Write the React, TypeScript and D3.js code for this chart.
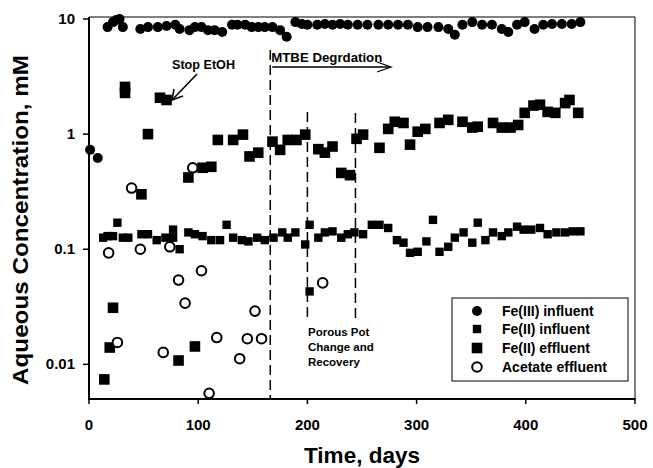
import React from "react";
import * as d3 from "d3";

// Fe(III) influent [day, mM]
const fe3Influent: [number, number][] = [
  [1, 0.73], [8, 0.62],
  [17, 8.5], [22, 9.4], [25, 9.8], [28, 10], [31, 8.5], [47, 8.2], [54, 8.5],
  [63, 8.5], [71, 8.7], [79, 8.9], [83, 8.2], [92, 8.0], [97, 8.5], [103, 8.5],
  [109, 8.0], [115, 8.0], [122, 7.7], [131, 8.9], [136, 8.9], [143, 8.9],
  [149, 8.5], [155, 8.5], [161, 8.5], [168, 8.5], [175, 8.0], [181, 7.0],
  [189, 9.4], [195, 9.05], [200, 8.9], [209, 8.9], [216, 9.05], [223, 8.9],
  [230, 9.05], [237, 8.9], [246, 8.9], [255, 8.9], [265, 8.9], [274, 8.9],
  [283, 8.9], [292, 8.9], [301, 8.5], [310, 8.5], [320, 8.5], [329, 8.2],
  [335, 7.3], [342, 8.9], [351, 9.4], [360, 8.9], [369, 8.9], [378, 8.2],
  [384, 7.7], [392, 8.9], [399, 9.4], [408, 8.2], [416, 8.9], [424, 9.05],
  [433, 9.05], [442, 9.05], [450, 9.4],
];

// Fe(II) influent [day, mM]
const fe2Influent: [number, number][] = [
  [13, 0.126], [17, 0.13], [22, 0.13], [26, 0.17], [31, 0.126], [36, 0.126],
  [48, 0.135], [54, 0.135], [62, 0.12], [70, 0.126], [77, 0.148], [77, 0.126],
  [83, 0.1], [91, 0.14], [97, 0.135], [104, 0.13], [112, 0.12], [120, 0.12],
  [126, 0.163], [132, 0.126], [140, 0.12], [146, 0.117], [154, 0.126],
  [161, 0.12], [169, 0.126], [177, 0.14], [182, 0.126], [189, 0.14],
  [198, 0.11], [202, 0.163], [202, 0.043], [210, 0.126], [216, 0.14],
  [223, 0.143], [231, 0.126], [237, 0.135], [243, 0.14], [251, 0.135],
  [259, 0.163], [266, 0.163], [274, 0.153], [282, 0.12], [288, 0.114],
  [294, 0.093], [301, 0.095], [309, 0.117], [315, 0.18], [321, 0.095],
  [329, 0.105], [335, 0.126], [343, 0.14], [351, 0.114], [356, 0.17],
  [363, 0.12], [370, 0.14], [378, 0.13], [384, 0.14], [392, 0.157],
  [398, 0.148], [405, 0.148], [413, 0.153], [420, 0.135], [428, 0.14],
  [436, 0.14], [443, 0.143], [450, 0.143],
];

// Fe(II) effluent [day, mM]
const fe2Effluent: [number, number][] = [
  [14, 0.0074], [19, 0.014], [22, 0.031], [33, 2.57], [33, 2.28], [48, 0.3],
  [54, 1.0], [65, 2.07], [71, 1.98], [82, 0.0108], [91, 0.42], [97, 0.0143],
  [104, 0.51], [112, 0.52], [118, 0.89], [132, 0.89], [141, 0.99], [147, 0.64],
  [155, 0.69], [168, 0.86], [175, 0.73], [182, 0.89], [190, 0.89], [198, 0.99],
  [210, 0.74], [216, 0.69], [223, 0.78], [231, 0.46], [239, 0.44], [245, 0.91],
  [251, 0.99], [266, 0.76], [274, 1.11], [280, 1.28], [288, 1.25], [294, 0.81],
  [301, 1.05], [308, 1.11], [321, 1.25], [329, 1.33], [342, 1.28], [351, 1.14],
  [356, 1.16], [370, 1.25], [378, 1.14], [386, 1.14], [393, 1.2], [399, 1.53],
  [407, 1.77], [413, 1.8], [420, 1.56], [427, 1.53], [436, 1.86], [440, 1.98],
  [448, 1.53],
];

// Acetate effluent [day, mM]
const acetate: [number, number][] = [
  [18, 0.093], [26, 0.0155], [39, 0.34], [47, 0.1], [68, 0.0127], [74, 0.105],
  [82, 0.054], [88, 0.034], [95, 0.51], [103, 0.065], [110, 0.0056],
  [117, 0.0171], [138, 0.0112], [145, 0.0167], [152, 0.029], [158, 0.0167],
  [214, 0.051],
];

const xTicks = [0, 100, 200, 300, 400, 500];
const yTicks = [0.01, 0.1, 1, 10];
const yTickLabels = ["0.01", "0.1", "1", "10"];
const eventDays = [166, 200, 244];

const legendItems = ["Fe(III) influent", "Fe(II) influent", "Fe(II) effluent", "Acetate effluent"];

const FONT = "'Liberation Sans', Arial, sans-serif";

const Marker = ({ kind, x, y }: { kind: number; x: number; y: number }) => {
  if (kind === 0) return <circle cx={x} cy={y} r={5} fill="#000" />;
  if (kind === 1) return <rect x={x - 4.2} y={y - 4.2} width={8.4} height={8.4} fill="#000" />;
  if (kind === 2) return <rect x={x - 5.3} y={y - 5.3} width={10.6} height={10.6} fill="#000" />;
  return <circle cx={x} cy={y} r={4.8} fill="#fff" stroke="#000" strokeWidth={2} />;
};

export default function App() {
  const width = 653;
  const height = 468;
  const margin = { top: 18, right: 18, bottom: 69, left: 89 };

  const x = d3.scaleLinear().domain([0, 500]).range([margin.left, width - margin.right]);
  const y = d3.scaleLog().domain([0.005, 10]).range([height - margin.bottom, margin.top + 1]);

  const x0 = margin.left;
  const x1 = width - margin.right;
  const y0 = height - margin.bottom;
  const y1 = margin.top - 1;

  const series = [fe3Influent, fe2Influent, fe2Effluent, acetate];

  const ly = [311, 329, 348, 367];

  return (
    <svg width={width} height={height} style={{ position: "absolute", left: 0, top: 0 }} fontFamily={FONT}>
      <rect width={width} height={height} fill="#fff" />

      {/* frame */}
      <line x1={x0} x2={x1} y1={y1} y2={y1} stroke="#000" strokeWidth={1} />
      <line x1={x1} x2={x1} y1={y1} y2={y0} stroke="#000" strokeWidth={1} />
      <line x1={x0} x2={x1 + 0.5} y1={y0} y2={y0} stroke="#000" strokeWidth={2} />
      <line x1={x0} x2={x0} y1={y1} y2={y0 + 1} stroke="#000" strokeWidth={2} />

      {xTicks.map((t) => (
        <g key={t}>
          <line x1={x(t)} x2={x(t)} y1={y0} y2={y0 + 5} stroke="#000" strokeWidth={1.5} />
          <text x={x(t)} y={y0 + 31} textAnchor="middle" fontSize={15} fontWeight="bold">{t}</text>
        </g>
      ))}
      {yTicks.map((t, i) => (
        <g key={t}>
          <line x1={x0 - 6} x2={x0} y1={y(t)} y2={y(t)} stroke="#000" strokeWidth={1.5} />
          <text x={x0 - 14} y={y(t) + 5} textAnchor="end" fontSize={15} fontWeight="bold">{yTickLabels[i]}</text>
        </g>
      ))}

      <text x={362} y={463} textAnchor="middle" fontSize={22} fontWeight="bold" textLength={116} lengthAdjust="spacingAndGlyphs">
        Time, days
      </text>
      <text
        transform={`translate(28, 220) rotate(-90)`}
        textAnchor="middle"
        fontSize={22}
        fontWeight="bold"
        textLength={330}
        lengthAdjust="spacingAndGlyphs"
      >
        Aqueous Concentration, mM
      </text>

      {/* event lines */}
      <line x1={x(eventDays[0])} x2={x(eventDays[0])} y1={50} y2={y0} stroke="#000" strokeWidth={1.5} strokeDasharray="10,5" />
      <line x1={x(eventDays[1])} x2={x(eventDays[1])} y1={112} y2={318} stroke="#000" strokeWidth={1.5} strokeDasharray="10,5" />
      <line x1={x(eventDays[2])} x2={x(eventDays[2])} y1={113} y2={320} stroke="#000" strokeWidth={1.5} strokeDasharray="10,5" />

      {/* annotations */}
      <text x={x(eventDays[0]) + 1} y={62} fontSize={12} fontWeight="bold" textLength={111} lengthAdjust="spacingAndGlyphs">
        MTBE Degrdation
      </text>
      <line x1={x(eventDays[0]) + 2} x2={390} y1={67} y2={67} stroke="#000" strokeWidth={1.3} />
      <path d="M377,62 L391,67 L377,72" fill="none" stroke="#000" strokeWidth={1.3} />

      <text x={172} y={69} fontSize={12} fontWeight="bold" textLength={63} lengthAdjust="spacingAndGlyphs">Stop EtOH</text>
      <line x1={197} x2={173} y1={74} y2={99} stroke="#000" strokeWidth={1.6} />
      <path d="M174,89 L172,100 L183,96" fill="none" stroke="#000" strokeWidth={1.6} />

      <text fontSize={11.5} fontWeight="bold">
        <tspan x={308} y={336}>Porous Pot</tspan>
        <tspan x={308} y={351}>Change and</tspan>
        <tspan x={308} y={366}>Recovery</tspan>
      </text>

      {/* data */}
      {series.map((s, k) => (
        <g key={k}>
          {s.map(([d, v], i) => (
            <Marker key={i} kind={k} x={x(d)} y={y(v)} />
          ))}
        </g>
      ))}

      {/* legend */}
      <rect x={452} y={298} width={176} height={83} fill="#fff" stroke="#000" strokeWidth={1} />
      {legendItems.map((name, i) => (
        <g key={name}>
          <Marker kind={i} x={477} y={ly[i]} />
          <text x={502} y={ly[i] + 5} fontSize={14} fontWeight="bold">{name}</text>
        </g>
      ))}
    </svg>
  );
}
